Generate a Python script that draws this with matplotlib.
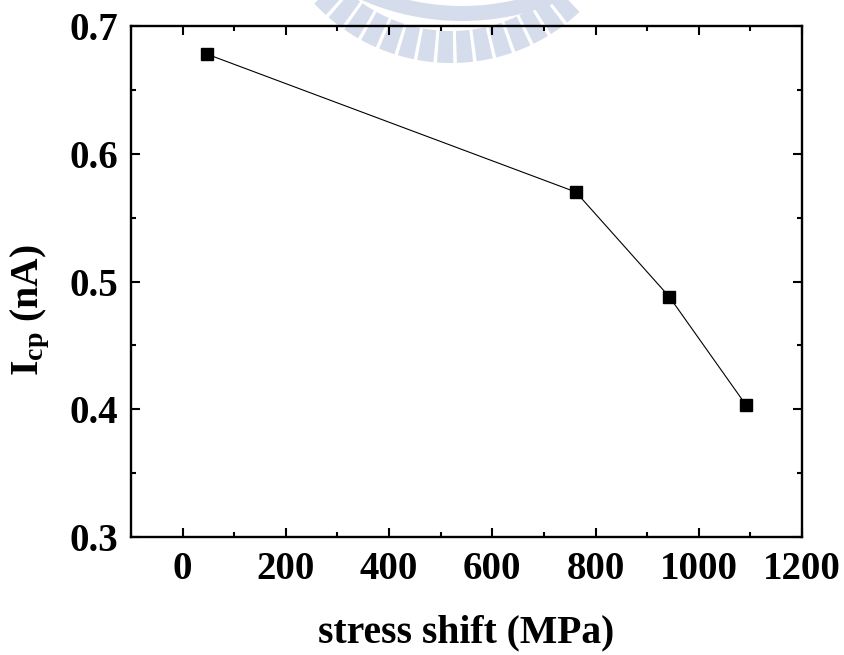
import numpy as np
import matplotlib
matplotlib.use('Agg')
import matplotlib.pyplot as plt
from matplotlib.patches import Wedge
from matplotlib.ticker import MultipleLocator

# 应力偏移与电荷泵电流数据
stress_shift = [47, 762, 943, 1092]      # MPa
icp = [0.678, 0.570, 0.488, 0.403]       # nA

plt.rcParams['font.family'] = ['Liberation Serif', 'DejaVu Serif']
plt.rcParams['font.weight'] = 'bold'
plt.rcParams['mathtext.fontset'] = 'custom'
plt.rcParams['mathtext.rm'] = 'Liberation Serif:bold'
plt.rcParams['mathtext.bf'] = 'Liberation Serif:bold'
plt.rcParams['mathtext.it'] = 'Liberation Serif:bold'

fig = plt.figure(figsize=(8.45, 6.55), dpi=100)

# 背景校徽水印（像素坐标）
bg = fig.add_axes([0, 0, 1, 1], zorder=0)
bg.set_xlim(0, 845)
bg.set_ylim(655, 0)
bg.axis('off')
wm_color = '#d5dcec'
bg.add_patch(Wedge((462, -230), 251, 45, 135, width=15, color=wm_color, lw=0))
for phi in np.arange(-43.0, 46.0, 6.1) - 1.5:
    th = 90 - phi
    bg.add_patch(Wedge((451, -124), 187, th - 2.5, th + 2.5, width=32,
                       color=wm_color, lw=0))

ax = fig.add_axes([131 / 845, 118 / 655, 671 / 845, 511 / 655], zorder=1)
ax.patch.set_alpha(0)

ax.plot(stress_shift, icp, '-', color='black', lw=0.8,
        marker='s', markersize=8.4, markerfacecolor='black', markeredgecolor='black')

ax.set_xlim(-100, 1200)
ax.set_ylim(0.3, 0.7)
ax.xaxis.set_major_locator(MultipleLocator(200))
ax.xaxis.set_minor_locator(MultipleLocator(100))
ax.yaxis.set_major_locator(MultipleLocator(0.1))
ax.yaxis.set_minor_locator(MultipleLocator(0.05))
ax.set_xticks([0, 200, 400, 600, 800, 1000, 1200])
ax.set_yticks([0.3, 0.4, 0.5, 0.6, 0.7])
ax.set_yticklabels(['0.3', '0.4', '0.5', '0.6', '0.7'])

for s in ax.spines.values():
    s.set_linewidth(1.7)

ax.tick_params(which='both', direction='in', top=True, right=True, width=1.5)
ax.tick_params(which='major', length=6.5)
ax.tick_params(which='minor', length=3.6)
ax.tick_params(axis='x', which='major', pad=10, labelsize=28)
ax.tick_params(axis='y', which='major', pad=9, labelsize=28)

ax.set_xlabel('stress shift (MPa)', fontsize=28.5, fontweight='bold', labelpad=19)
ax.set_ylabel(r'$\mathbf{I}_{\mathbf{cp}}$ (nA)', fontsize=28.5, fontweight='bold', labelpad=13)
ax.yaxis.label.set_y(0.444)

fig.savefig('out.png', dpi=100)
